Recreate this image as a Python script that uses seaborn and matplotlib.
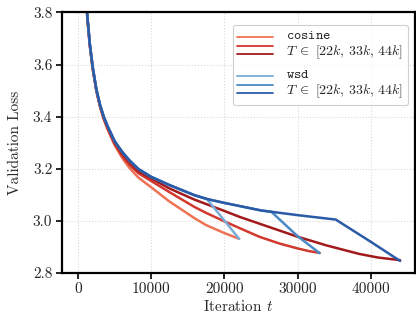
import numpy as np
import pandas as pd
import matplotlib
matplotlib.use("Agg")
import matplotlib.pyplot as plt
import seaborn as sns
from matplotlib.legend_handler import HandlerBase
from matplotlib.lines import Line2D

# ---- data ----
# WSD constant-LR stage (shared by all wsd runs)
const_it = [700, 1000, 1250, 1600, 2000, 2500, 3000, 3500, 4000, 5000, 6000, 7000, 8250,
            10000, 12450, 15870, 17600, 20000, 25000, 26400, 30000, 35200]
const_loss = [4.5, 3.98, 3.79, 3.68, 3.59, 3.505, 3.445, 3.40, 3.365, 3.305, 3.265, 3.232, 3.198,
              3.168, 3.137, 3.098, 3.083, 3.068, 3.039, 3.034, 3.021, 3.004]

# WSD cooldown stages
decay22_it = [17600, 20000, 22000]
decay22_loss = [3.083, 3.0, 2.93]
decay33_it = [26400, 30000, 33000]
decay33_loss = [3.034, 2.94, 2.875]
decay44_it = [35200, 39800, 44000]
decay44_loss = [3.004, 2.922, 2.845]

# cosine runs
cos22_it = [700, 1000, 1250, 1600, 2000, 2500, 3000, 3500, 4000, 5000, 6000, 7000, 8250,
            10000, 12450, 14000, 15870, 17470, 20000, 22000]
cos22_loss = [4.47, 3.96, 3.78, 3.67, 3.58, 3.498, 3.437, 3.39, 3.352, 3.29, 3.242, 3.203, 3.165,
              3.128, 3.074, 3.045, 3.01, 2.983, 2.952, 2.93]
cos33_it = [700, 1000, 1250, 1600, 2000, 2500, 3000, 3500, 4000, 5000, 6000, 7000, 8250,
            10000, 12450, 15870, 17470, 20000, 22000, 24760, 27500, 30000, 31500, 33000]
cos33_loss = [4.47, 3.965, 3.785, 3.675, 3.585, 3.50, 3.44, 3.393, 3.357, 3.295, 3.25, 3.215, 3.182,
              3.152, 3.11, 3.053, 3.03, 2.997, 2.972, 2.938, 2.912, 2.893, 2.883, 2.876]
cos44_it = [700, 1000, 1250, 1600, 2000, 2500, 3000, 3500, 4000, 5000, 6000, 7000, 8250,
            10000, 12450, 15870, 20000, 22000, 25000, 27500, 30000, 33900, 38400, 41000, 44000]
cos44_loss = [4.48, 3.97, 3.788, 3.677, 3.587, 3.50, 3.44, 3.395, 3.36, 3.30, 3.258, 3.225, 3.19,
              3.162, 3.124, 3.081, 3.037, 3.015, 2.986, 2.962, 2.938, 2.905, 2.872, 2.858, 2.848]

run_names = ["cos22", "cos33", "cos44", "wsd22", "wsd33", "wsd44"]
cos_colors = ["#ef7254", "#d2382d", "#a31a1c"]
wsd_colors = ["#7aaed8", "#4b8ac4", "#2b5ba7"]

x_ticks = [0, 10000, 20000, 30000, 40000]
y_ticks = [2.8, 3.0, 3.2, 3.4, 3.6, 3.8]


def wsd_run(dec_it, dec_loss):
    start = dec_it[0]
    its = [i for i in const_it if i < start] + list(dec_it)
    ls = [l for i, l in zip(const_it, const_loss) if i < start] + list(dec_loss)
    return its, ls


runs = {
    "cos22": (cos22_it, cos22_loss),
    "cos33": (cos33_it, cos33_loss),
    "cos44": (cos44_it, cos44_loss),
    "wsd22": wsd_run(decay22_it, decay22_loss),
    "wsd33": wsd_run(decay33_it, decay33_loss),
    "wsd44": wsd_run(decay44_it, decay44_loss),
}
frames = []
for name in run_names:
    its, ls = runs[name]
    frames.append(pd.DataFrame({"run": name, "iteration": its, "loss": ls}))
df = pd.concat(frames, ignore_index=True)

# ---- style ----
sns.set_theme(style="ticks")
plt.rcParams["font.family"] = ["cmr10", "DejaVu Serif"]
plt.rcParams["mathtext.fontset"] = "cm"
plt.rcParams["axes.formatter.use_mathtext"] = True
plt.rcParams["axes.unicode_minus"] = False

fig = plt.figure(figsize=(4.16, 3.2), dpi=100)
ax = fig.add_axes([0.149, 0.148, 0.848, 0.813])

sns.lineplot(data=df, x="iteration", y="loss", hue="run", hue_order=run_names,
             palette=cos_colors + wsd_colors, sort=False, estimator=None,
             legend=False, linewidth=1.8, ax=ax)

ax.set_xlim(-2200, 46000)
ax.set_ylim(2.8, 3.8)
ax.set_xticks(x_ticks)
ax.set_xticklabels([str(v) for v in x_ticks])
ax.set_yticks(y_ticks)
ax.set_yticklabels([f"{v:.1f}" for v in y_ticks])
ax.tick_params(labelsize=11, length=4, width=1.2, color="black", pad=3)
ax.grid(True, color="#d8d8d8", linestyle=":", linewidth=0.8)
for s in ax.spines.values():
    s.set_visible(True)
    s.set_color("black")
    s.set_linewidth(1.6)
ax.set_xlabel("Iteration $t$", fontsize=11, labelpad=2)
ax.set_ylabel("Validation Loss", fontsize=11, labelpad=8)


class ThreeLines(HandlerBase):
    def __init__(self, colors):
        super().__init__()
        self.colors = colors

    def create_artists(self, legend, orig_handle, xdescent, ydescent, width, height,
                       fontsize, trans):
        arts = []
        for i, c in enumerate(self.colors):
            y = -ydescent + height * (0.88 - 0.38 * i)
            ln = Line2D([-xdescent, -xdescent + width], [y, y], color=c, lw=1.3,
                        transform=trans)
            arts.append(ln)
        return arts


h_cos = Line2D([], [])
h_wsd = Line2D([], [], ls="--")
lab_cos = r"$\mathtt{cosine}$" + "\n" + r"$T \;\in\; [22k,\, 33k,\, 44k]$"
lab_wsd = r"$\mathtt{wsd}$" + "\n" + r"$T \;\in\; [22k,\, 33k,\, 44k]$"
leg = ax.legend([h_cos, h_wsd], [lab_cos, lab_wsd],
                handler_map={h_cos: ThreeLines(cos_colors), h_wsd: ThreeLines(wsd_colors)},
                loc="upper right", fontsize=10, handlelength=2.6, handleheight=2.0,
                labelspacing=0.5, borderpad=0.35, handletextpad=0.9,
                frameon=True, fancybox=True, bbox_to_anchor=(1.0, 0.98))
leg.get_frame().set_edgecolor("#c4c4c4")
leg.get_frame().set_linewidth(0.8)

fig.savefig("out.png", dpi=100)
